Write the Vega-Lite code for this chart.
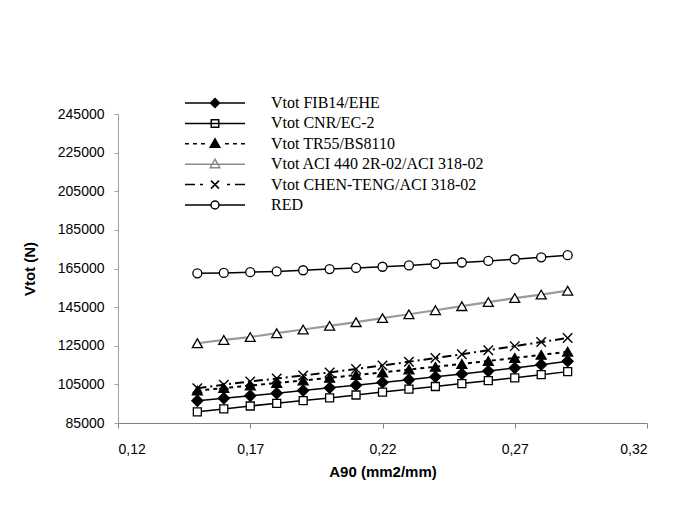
{
  "$schema": "https://vega.github.io/schema/vega-lite/v6.json",
  "width": 529,
  "height": 309,
  "autosize": {"type": "none"},
  "padding": {"left": 118, "top": 114, "right": 40, "bottom": 89},
  "background": "white",
  "config": {
    "view": {"stroke": null},
    "axis": {"grid": false, "labelColor": "black", "titleColor": "black", "labelFont": "Liberation Sans", "titleFont": "Liberation Sans"}
  },
  "datasets": {
    "vals": [
      {"series": "Vtot FIB14/EHE", "a90": 0.15, "vtot": 96500},
      {"series": "Vtot FIB14/EHE", "a90": 0.16, "vtot": 97800},
      {"series": "Vtot FIB14/EHE", "a90": 0.17, "vtot": 99100},
      {"series": "Vtot FIB14/EHE", "a90": 0.18, "vtot": 100400},
      {"series": "Vtot FIB14/EHE", "a90": 0.19, "vtot": 101800},
      {"series": "Vtot FIB14/EHE", "a90": 0.20, "vtot": 103200},
      {"series": "Vtot FIB14/EHE", "a90": 0.21, "vtot": 104600},
      {"series": "Vtot FIB14/EHE", "a90": 0.22, "vtot": 106000},
      {"series": "Vtot FIB14/EHE", "a90": 0.23, "vtot": 107400},
      {"series": "Vtot FIB14/EHE", "a90": 0.24, "vtot": 108900},
      {"series": "Vtot FIB14/EHE", "a90": 0.25, "vtot": 110400},
      {"series": "Vtot FIB14/EHE", "a90": 0.26, "vtot": 111900},
      {"series": "Vtot FIB14/EHE", "a90": 0.27, "vtot": 113500},
      {"series": "Vtot FIB14/EHE", "a90": 0.28, "vtot": 115200},
      {"series": "Vtot FIB14/EHE", "a90": 0.29, "vtot": 117000},
      {"series": "Vtot CNR/EC-2", "a90": 0.15, "vtot": 90800},
      {"series": "Vtot CNR/EC-2", "a90": 0.16, "vtot": 92300},
      {"series": "Vtot CNR/EC-2", "a90": 0.17, "vtot": 93800},
      {"series": "Vtot CNR/EC-2", "a90": 0.18, "vtot": 95200},
      {"series": "Vtot CNR/EC-2", "a90": 0.19, "vtot": 96600},
      {"series": "Vtot CNR/EC-2", "a90": 0.20, "vtot": 98000},
      {"series": "Vtot CNR/EC-2", "a90": 0.21, "vtot": 99500},
      {"series": "Vtot CNR/EC-2", "a90": 0.22, "vtot": 101000},
      {"series": "Vtot CNR/EC-2", "a90": 0.23, "vtot": 102500},
      {"series": "Vtot CNR/EC-2", "a90": 0.24, "vtot": 103900},
      {"series": "Vtot CNR/EC-2", "a90": 0.25, "vtot": 105400},
      {"series": "Vtot CNR/EC-2", "a90": 0.26, "vtot": 106900},
      {"series": "Vtot CNR/EC-2", "a90": 0.27, "vtot": 108400},
      {"series": "Vtot CNR/EC-2", "a90": 0.28, "vtot": 110000},
      {"series": "Vtot CNR/EC-2", "a90": 0.29, "vtot": 111600},
      {"series": "Vtot TR55/BS8110", "a90": 0.15, "vtot": 101800},
      {"series": "Vtot TR55/BS8110", "a90": 0.16, "vtot": 103100},
      {"series": "Vtot TR55/BS8110", "a90": 0.17, "vtot": 104400},
      {"series": "Vtot TR55/BS8110", "a90": 0.18, "vtot": 105700},
      {"series": "Vtot TR55/BS8110", "a90": 0.19, "vtot": 107000},
      {"series": "Vtot TR55/BS8110", "a90": 0.20, "vtot": 108400},
      {"series": "Vtot TR55/BS8110", "a90": 0.21, "vtot": 109800},
      {"series": "Vtot TR55/BS8110", "a90": 0.22, "vtot": 111200},
      {"series": "Vtot TR55/BS8110", "a90": 0.23, "vtot": 112700},
      {"series": "Vtot TR55/BS8110", "a90": 0.24, "vtot": 114100},
      {"series": "Vtot TR55/BS8110", "a90": 0.25, "vtot": 115600},
      {"series": "Vtot TR55/BS8110", "a90": 0.26, "vtot": 117100},
      {"series": "Vtot TR55/BS8110", "a90": 0.27, "vtot": 118700},
      {"series": "Vtot TR55/BS8110", "a90": 0.28, "vtot": 120300},
      {"series": "Vtot TR55/BS8110", "a90": 0.29, "vtot": 121900},
      {"series": "Vtot ACI 440 2R-02/ACI 318-02", "a90": 0.15, "vtot": 126300},
      {"series": "Vtot ACI 440 2R-02/ACI 318-02", "a90": 0.16, "vtot": 128000},
      {"series": "Vtot ACI 440 2R-02/ACI 318-02", "a90": 0.17, "vtot": 129500},
      {"series": "Vtot ACI 440 2R-02/ACI 318-02", "a90": 0.18, "vtot": 131500},
      {"series": "Vtot ACI 440 2R-02/ACI 318-02", "a90": 0.19, "vtot": 133400},
      {"series": "Vtot ACI 440 2R-02/ACI 318-02", "a90": 0.20, "vtot": 135300},
      {"series": "Vtot ACI 440 2R-02/ACI 318-02", "a90": 0.21, "vtot": 137200},
      {"series": "Vtot ACI 440 2R-02/ACI 318-02", "a90": 0.22, "vtot": 139300},
      {"series": "Vtot ACI 440 2R-02/ACI 318-02", "a90": 0.23, "vtot": 141300},
      {"series": "Vtot ACI 440 2R-02/ACI 318-02", "a90": 0.24, "vtot": 143400},
      {"series": "Vtot ACI 440 2R-02/ACI 318-02", "a90": 0.25, "vtot": 145500},
      {"series": "Vtot ACI 440 2R-02/ACI 318-02", "a90": 0.26, "vtot": 147600},
      {"series": "Vtot ACI 440 2R-02/ACI 318-02", "a90": 0.27, "vtot": 149700},
      {"series": "Vtot ACI 440 2R-02/ACI 318-02", "a90": 0.28, "vtot": 151500},
      {"series": "Vtot ACI 440 2R-02/ACI 318-02", "a90": 0.29, "vtot": 153500},
      {"series": "Vtot CHEN-TENG/ACI 318-02", "a90": 0.15, "vtot": 103000},
      {"series": "Vtot CHEN-TENG/ACI 318-02", "a90": 0.16, "vtot": 104800},
      {"series": "Vtot CHEN-TENG/ACI 318-02", "a90": 0.17, "vtot": 106500},
      {"series": "Vtot CHEN-TENG/ACI 318-02", "a90": 0.18, "vtot": 108000},
      {"series": "Vtot CHEN-TENG/ACI 318-02", "a90": 0.19, "vtot": 109600},
      {"series": "Vtot CHEN-TENG/ACI 318-02", "a90": 0.20, "vtot": 111200},
      {"series": "Vtot CHEN-TENG/ACI 318-02", "a90": 0.21, "vtot": 113000},
      {"series": "Vtot CHEN-TENG/ACI 318-02", "a90": 0.22, "vtot": 114800},
      {"series": "Vtot CHEN-TENG/ACI 318-02", "a90": 0.23, "vtot": 116700},
      {"series": "Vtot CHEN-TENG/ACI 318-02", "a90": 0.24, "vtot": 118600},
      {"series": "Vtot CHEN-TENG/ACI 318-02", "a90": 0.25, "vtot": 120600},
      {"series": "Vtot CHEN-TENG/ACI 318-02", "a90": 0.26, "vtot": 122700},
      {"series": "Vtot CHEN-TENG/ACI 318-02", "a90": 0.27, "vtot": 124800},
      {"series": "Vtot CHEN-TENG/ACI 318-02", "a90": 0.28, "vtot": 126900},
      {"series": "Vtot CHEN-TENG/ACI 318-02", "a90": 0.29, "vtot": 129000},
      {"series": "RED", "a90": 0.15, "vtot": 162500},
      {"series": "RED", "a90": 0.16, "vtot": 162700},
      {"series": "RED", "a90": 0.17, "vtot": 163100},
      {"series": "RED", "a90": 0.18, "vtot": 163500},
      {"series": "RED", "a90": 0.19, "vtot": 164100},
      {"series": "RED", "a90": 0.20, "vtot": 164700},
      {"series": "RED", "a90": 0.21, "vtot": 165300},
      {"series": "RED", "a90": 0.22, "vtot": 165900},
      {"series": "RED", "a90": 0.23, "vtot": 166600},
      {"series": "RED", "a90": 0.24, "vtot": 167400},
      {"series": "RED", "a90": 0.25, "vtot": 168100},
      {"series": "RED", "a90": 0.26, "vtot": 168900},
      {"series": "RED", "a90": 0.27, "vtot": 169800},
      {"series": "RED", "a90": 0.28, "vtot": 170800},
      {"series": "RED", "a90": 0.29, "vtot": 171900}
    ]
  },
  "data": {"name": "vals"},
  "encoding": {
    "x": {
      "field": "a90", "type": "quantitative",
      "scale": {"domain": [0.12, 0.32], "nice": false, "zero": false},
      "axis": {
        "title": "A90 (mm2/mm)", "values": [0.12, 0.17, 0.22, 0.27, 0.32],
        "labelExpr": "replace(format(datum.value, '.2f'), '.', ',')",
        "labelFontSize": 14, "tickSize": 5, "labelPadding": 14,
        "domainColor": "#808080", "tickColor": "#808080",
        "titleFontSize": 15, "titleFontWeight": "bold", "titlePadding": 8
      }
    },
    "y": {
      "field": "vtot", "type": "quantitative",
      "scale": {"domain": [85000, 245000], "nice": false, "zero": false},
      "axis": {
        "title": "Vtot (N)", "values": [85000, 105000, 125000, 145000, 165000, 185000, 205000, 225000, 245000],
        "format": "d", "labelFontSize": 14, "tickSize": 4, "labelPadding": 10,
        "domainColor": "#a0a0a0", "tickColor": "#a0a0a0",
        "titleFontSize": 15, "titleFontWeight": "bold", "titlePadding": 20
      }
    }
  },
  "layer": [
    {
      "transform": [{"filter": {"field": "series", "equal": "Vtot FIB14/EHE"}}],
      "mark": {"type": "line", "color": "black", "strokeWidth": 1.5},
      "encoding": {}
    },
    {
      "transform": [{"filter": {"field": "series", "equal": "Vtot CNR/EC-2"}}],
      "mark": {"type": "line", "color": "black", "strokeWidth": 1.5},
      "encoding": {}
    },
    {
      "transform": [{"filter": {"field": "series", "equal": "Vtot TR55/BS8110"}}],
      "mark": {"type": "line", "color": "black", "strokeWidth": 2, "strokeDash": [4, 4]},
      "encoding": {}
    },
    {
      "transform": [{"filter": {"field": "series", "equal": "Vtot ACI 440 2R-02/ACI 318-02"}}],
      "mark": {"type": "line", "color": "#9a9a9a", "strokeWidth": 2.2},
      "encoding": {}
    },
    {
      "transform": [{"filter": {"field": "series", "equal": "Vtot CHEN-TENG/ACI 318-02"}}],
      "mark": {"type": "line", "color": "black", "strokeWidth": 2, "strokeDash": [9, 4, 2, 4]},
      "encoding": {}
    },
    {
      "transform": [{"filter": {"field": "series", "equal": "RED"}}],
      "mark": {"type": "line", "color": "black", "strokeWidth": 1.5},
      "encoding": {}
    },
    {
      "transform": [{"filter": {"field": "series", "equal": "Vtot FIB14/EHE"}}],
      "mark": {"type": "point", "shape": "diamond", "size": 121, "fill": "black", "stroke": "black", "strokeWidth": 1.3, "opacity": 1}
    },
    {
      "transform": [{"filter": {"field": "series", "equal": "Vtot CNR/EC-2"}}],
      "mark": {"type": "point", "shape": "square", "size": 64, "fill": "white", "stroke": "black", "strokeWidth": 1.3, "opacity": 1}
    },
    {
      "transform": [{"filter": {"field": "series", "equal": "Vtot TR55/BS8110"}}],
      "mark": {"type": "point", "shape": "triangle-up", "size": 100, "fill": "black", "stroke": "black", "strokeWidth": 1.3, "opacity": 1}
    },
    {
      "transform": [{"filter": {"field": "series", "equal": "Vtot ACI 440 2R-02/ACI 318-02"}}],
      "mark": {"type": "point", "shape": "triangle-up", "size": 100, "fill": "white", "stroke": "black", "strokeWidth": 1.3, "opacity": 1}
    },
    {
      "transform": [{"filter": {"field": "series", "equal": "Vtot CHEN-TENG/ACI 318-02"}}],
      "mark": {"type": "point", "shape": "M-1,-1L1,1M-1,1L1,-1", "size": 90, "fill": "transparent", "stroke": "black", "strokeWidth": 1.4, "opacity": 1}
    },
    {
      "transform": [{"filter": {"field": "series", "equal": "RED"}}],
      "mark": {"type": "point", "shape": "circle", "size": 81, "fill": "white", "stroke": "black", "strokeWidth": 1.3, "opacity": 1}
    },
    {
      "mark": {"type": "point", "opacity": 0, "strokeWidth": 1.5},
      "encoding": {
        "shape": {
          "field": "series", "type": "nominal",
          "scale": {
            "domain": ["Vtot FIB14/EHE", "Vtot CNR/EC-2", "Vtot TR55/BS8110", "Vtot ACI 440 2R-02/ACI 318-02", "Vtot CHEN-TENG/ACI 318-02", "RED"],
            "range": [
              "M-6,0L6,0M0,-0.9L0.9,0L0,0.9L-0.9,0Z",
              "M-6,0L6,0M-0.75,-0.75L0.75,-0.75L0.75,0.75L-0.75,0.75Z",
              "M-6,0L-5.2,0M-4.4,0L-3.6,0M-2.8,0L-2,0M2,0L2.8,0M3.6,0L4.4,0M5.2,0L6,0M0,-1L0.95,0.7L-0.95,0.7Z",
              "M-6,0L6,0M0,-1L0.95,0.7L-0.95,0.7Z",
              "M-6,0L-4,0M-3,0L-2.4,0M2.4,0L3,0M4,0L6,0M-0.8,-0.8L0.8,0.8M-0.8,0.8L0.8,-0.8",
              "M-6,0L-0.8,0M0.8,0L6,0M0.8,0A0.8,0.8,0,1,1,-0.8,0A0.8,0.8,0,1,1,0.8,0Z"
            ]
          },
          "legend": {
            "orient": "none", "legendX": 67, "legendY": -19, "title": null,
            "symbolSize": 100, "symbolStrokeWidth": 1.5, "symbolOffset": 22, "symbolOpacity": 1,
            "labelOffset": 48, "labelFont": "Liberation Serif", "labelFontSize": 16,
            "labelColor": "black", "rowPadding": 4.4, "padding": 0, "labelLimit": 400
          }
        },
        "fill": {
          "field": "series", "type": "nominal",
          "scale": {
            "domain": ["Vtot FIB14/EHE", "Vtot CNR/EC-2", "Vtot TR55/BS8110", "Vtot ACI 440 2R-02/ACI 318-02", "Vtot CHEN-TENG/ACI 318-02", "RED"],
            "range": ["black", "white", "black", "white", "white", "white"]
          },
          "legend": {
            "orient": "none", "legendX": 67, "legendY": -19, "title": null,
            "symbolSize": 100, "symbolStrokeWidth": 1.5, "symbolOffset": 22, "symbolOpacity": 1,
            "labelOffset": 48, "labelFont": "Liberation Serif", "labelFontSize": 16,
            "labelColor": "black", "rowPadding": 4.4, "padding": 0, "labelLimit": 400
          }
        },
        "stroke": {
          "field": "series", "type": "nominal",
          "scale": {
            "domain": ["Vtot FIB14/EHE", "Vtot CNR/EC-2", "Vtot TR55/BS8110", "Vtot ACI 440 2R-02/ACI 318-02", "Vtot CHEN-TENG/ACI 318-02", "RED"],
            "range": ["black", "black", "black", "#8a8a8a", "black", "black"]
          },
          "legend": {
            "orient": "none", "legendX": 67, "legendY": -19, "title": null,
            "symbolSize": 100, "symbolStrokeWidth": 1.5, "symbolOffset": 22, "symbolOpacity": 1,
            "labelOffset": 48, "labelFont": "Liberation Serif", "labelFontSize": 16,
            "labelColor": "black", "rowPadding": 4.4, "padding": 0, "labelLimit": 400
          }
        }
      }
    }
  ]
}
